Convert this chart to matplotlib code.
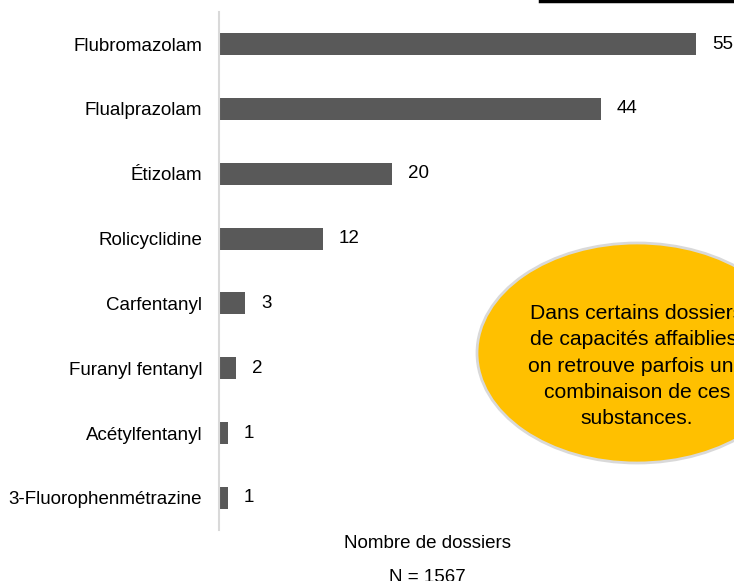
import matplotlib
matplotlib.use("Agg")
import matplotlib.pyplot as plt
from matplotlib.patches import Ellipse
from matplotlib.lines import Line2D

categories = ["Flubromazolam", "Flualprazolam", "Étizolam", "Rolicyclidine",
              "Carfentanyl", "Furanyl fentanyl", "Acétylfentanyl", "3-Fluorophenmétrazine"]
values = [55, 44, 20, 12, 3, 2, 1, 1]
xlabel = "Nombre de dossiers"
ntext = "N = 1567"
note = "Dans certains dossiers\nde capacités affaiblies,\non retrouve parfois une\ncombinaison de ces\nsubstances."

plt.rcParams['font.family'] = ['Liberation Sans', 'DejaVu Sans']
W, H = 734, 581
fig = plt.figure(figsize=(W/100, H/100), dpi=100)

ax_l, ax_r = 219, 734
ax_t, ax_b = 11.6, 530.4
ax = fig.add_axes([ax_l/W, 1-ax_b/H, (ax_r-ax_l)/W, (ax_b-ax_t)/H])
ypos = list(range(len(categories)))
ax.barh(ypos, values, height=0.34, color="#595959")
ax.set_ylim(len(categories)-0.5, -0.5)
ax.set_xlim(0, 55*(ax_r-ax_l)/(696-ax_l))
ax.set_yticks(ypos)
ax.set_yticklabels(categories, fontsize=13.5)
ax.tick_params(axis='y', length=0, pad=12)
ax.set_xticks([])
for s in ["top", "right", "bottom"]:
    ax.spines[s].set_visible(False)
ax.spines["left"].set_color("#d9d9d9")
ax.spines["left"].set_linewidth(1.5)
for y, v in zip(ypos, values):
    ax.annotate(str(v), (v, y), xytext=(11.5, 0), textcoords="offset points",
                va="center", ha="left", fontsize=13.5)

fig.text(427/W, 1-548/H, xlabel, ha="center", va="baseline", fontsize=13.5)
fig.text(427/W, 1-582/H, ntext, ha="center", va="baseline", fontsize=13.5)

ell = Ellipse((637/W, 1-353/H), 320/W, 220/H, transform=fig.transFigure,
              facecolor="#FFC000", edgecolor="#d9d9d9", linewidth=2)
fig.add_artist(ell)
fig.text(637/W, 1-366/H, note, ha="center", va="center", fontsize=15.2,
         linespacing=1.49)

fig.add_artist(Line2D([540/W, 1], [1-1/H, 1-1/H], transform=fig.transFigure,
                      color="#000000", linewidth=2.5))

fig.savefig("out.png", dpi=100)
